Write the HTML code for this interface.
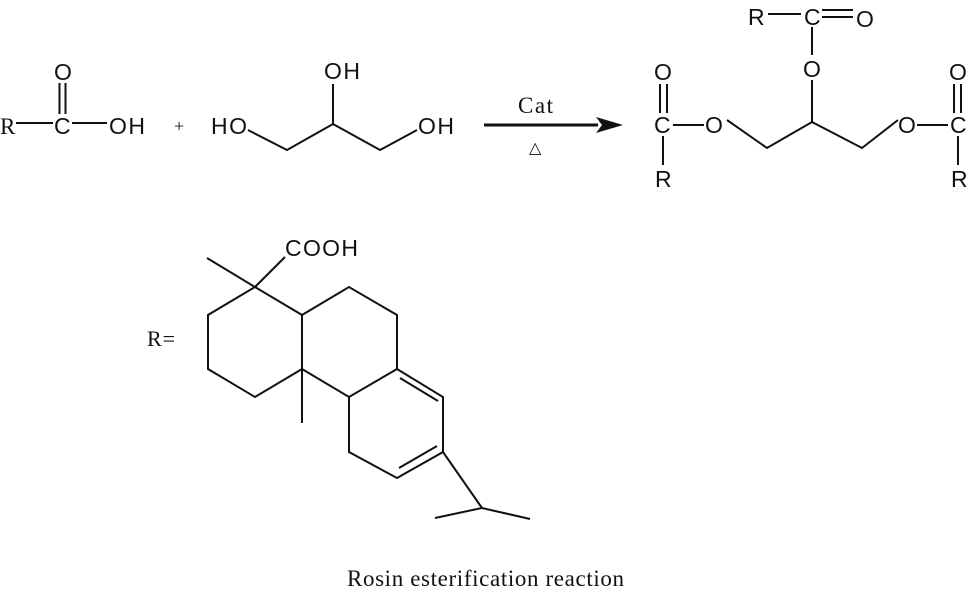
<!DOCTYPE html>
<html><head><meta charset="utf-8"><style>
html,body{margin:0;padding:0;background:#fff;}
svg{display:block}
.s{font-family:"Liberation Sans",sans-serif;font-size:23px;fill:#111}
.r{font-family:"Liberation Serif",serif;fill:#111}
line,polyline{stroke:#111;stroke-width:2;fill:none}
</style></head><body>
<svg width="971" height="595" viewBox="0 0 971 595" xmlns="http://www.w3.org/2000/svg">
<!-- acid -->
<text class="r" x="0" y="134" font-size="23">R</text>
<line x1="16" y1="123" x2="53" y2="123"/>
<text class="s" x="54" y="134">C</text>
<line x1="59.5" y1="83" x2="59.5" y2="114"/><line x1="65.5" y1="83" x2="65.5" y2="114"/>
<text class="s" x="54" y="80">O</text>
<line x1="72" y1="123" x2="107" y2="123"/>
<text class="s" x="109" y="134" textLength="36">OH</text>
<text class="r" x="174" y="132" font-size="18">+</text>
<!-- glycerol -->
<text class="s" x="211" y="134" textLength="36">HO</text>
<polyline points="248,130 287,150 333,124 380,150 417,130"/>
<line x1="333" y1="124" x2="333" y2="84"/>
<text class="s" x="324" y="79" textLength="36">OH</text>
<text class="s" x="418" y="134" textLength="36">OH</text>
<!-- arrow -->
<line x1="484" y1="125" x2="598" y2="125" style="stroke-width:3"/>
<polygon points="596,117 623,125 596,133 602,125" fill="#111"/>
<text class="r" x="518" y="113" font-size="23" textLength="35">Cat</text>
<text class="r" x="529" y="153" font-size="16">△</text>
<!-- product -->
<text class="s" x="748" y="25">R</text>
<line x1="768" y1="14" x2="801" y2="14"/>
<text class="s" x="804" y="25">C</text>
<line x1="822" y1="10" x2="853" y2="10"/><line x1="822" y1="17" x2="853" y2="17"/>
<text class="s" x="856" y="27">O</text>
<line x1="812" y1="27" x2="812" y2="55"/>
<text class="s" x="803" y="77">O</text>
<line x1="812" y1="80" x2="812" y2="122"/>
<polyline points="727,120 767,148 812,122 862,148 898,120"/>
<text class="s" x="705" y="133">O</text>
<line x1="673" y1="125" x2="704" y2="125"/>
<text class="s" x="654" y="133">C</text>
<line x1="660" y1="84" x2="660" y2="113"/><line x1="667" y1="84" x2="667" y2="113"/>
<text class="s" x="654" y="80">O</text>
<line x1="663" y1="136" x2="663" y2="165"/>
<text class="s" x="655" y="187">R</text>
<text class="s" x="898" y="133">O</text>
<line x1="917" y1="125" x2="948" y2="125"/>
<text class="s" x="950" y="133">C</text>
<line x1="954" y1="84" x2="954" y2="113"/><line x1="961" y1="84" x2="961" y2="113"/>
<text class="s" x="949" y="80">O</text>
<line x1="958" y1="136" x2="958" y2="165"/>
<text class="s" x="951" y="187">R</text>
<!-- R= rosin -->
<text class="r" x="147" y="346" font-size="22" textLength="28">R=</text>
<line x1="255" y1="287" x2="207" y2="258"/>
<line x1="255" y1="287" x2="285" y2="257"/>
<text class="s" x="285" y="256" textLength="73">COOH</text>
<polygon points="255,287 208,315 208,369 255,397 302,369 302,315" fill="none" stroke="#111" stroke-width="2"/>
<line x1="302" y1="369" x2="302" y2="423"/>
<polyline points="302,315 349,287 397,315 397,369 349,397 302,369"/>
<polyline points="397,369 443,397 443,452 397,478 349,452 349,397"/>
<line x1="400" y1="378" x2="438" y2="401"/>
<line x1="437" y1="446" x2="399" y2="468"/>
<polyline points="443,452 482,508 435,518"/>
<line x1="482" y1="508" x2="530" y2="519"/>
<text class="r" x="347" y="586" font-size="23" textLength="277">Rosin esterification reaction</text>
</svg>
</body></html>
